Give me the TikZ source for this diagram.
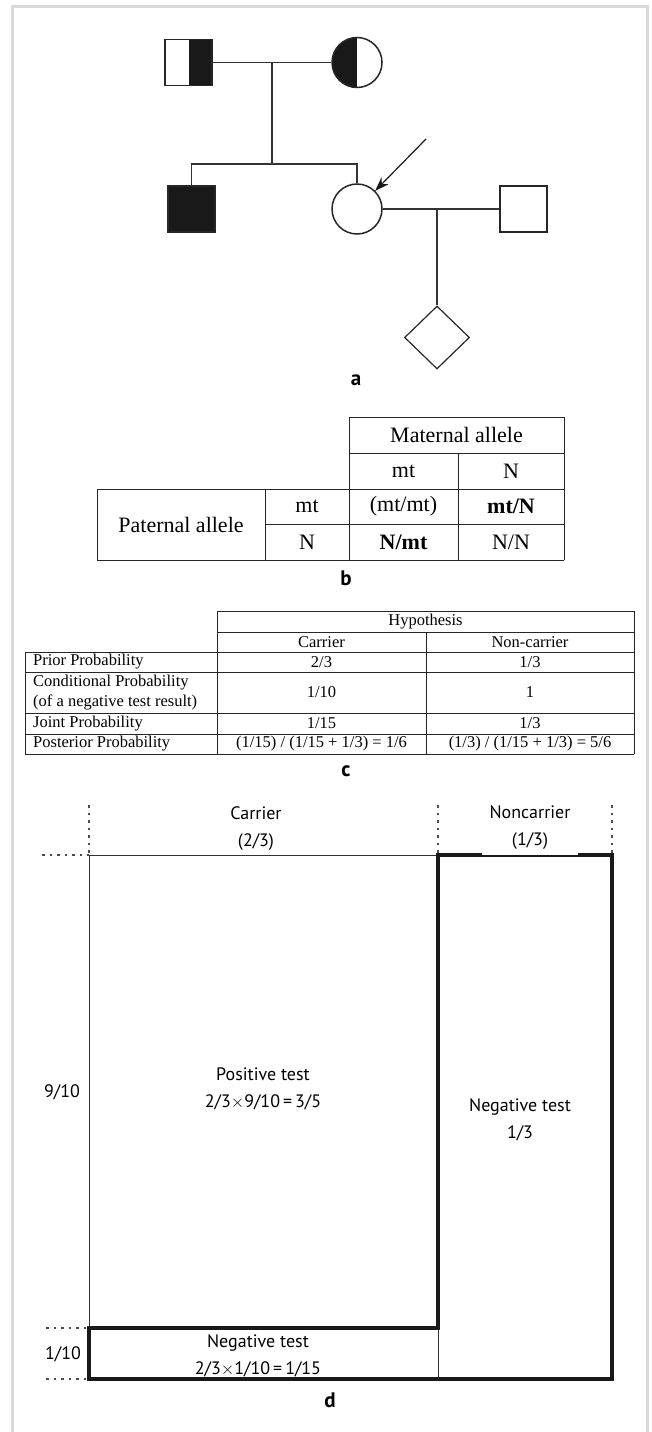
\documentclass[tikz,border=0pt]{standalone}
\usepackage{fontspec}
\setmainfont{Liberation Serif}
\setsansfont{PT Sans}
\usepackage{tikz}
\usetikzlibrary{arrows.meta,shapes.geometric,calc}
\tikzset{
  male/.style={
    rectangle, draw=black!85, line width=1.2pt,
    minimum width=47pt, minimum height=46pt, inner sep=0pt
  },
  female/.style={
    circle, draw=black!85, line width=1.5pt,
    minimum size=50pt, inner sep=0pt
  },
  pregnancy/.style={
    diamond, draw=black!85, line width=1.2pt,
    minimum width=65pt, minimum height=63pt, inner sep=0pt
  },
  pedline/.style={line width=1.2pt, color=black!80},
  pointer/.style={-{Stealth[length=14pt,width=10pt]}, line width=1.2pt, color=black!90},
  panel/.style={font=\sffamily\bfseries\fontsize{21}{24}\selectfont, inner sep=0pt},
  tabline/.style={line width=0.9pt, color=black!85},
  bigcell/.style={font=\fontsize{22}{26}\selectfont, inner sep=0pt},
  smallcell/.style={font=\fontsize{16.5}{20}\selectfont, inner sep=0pt, align=left},
  thinarea/.style={line width=1pt, color=black!80},
  thickarea/.style={line width=3.2pt, color=black!90, line join=miter},
  guide/.style={line width=1.3pt, color=black!70, dash pattern=on 2.5pt off 5pt},
  areatxt/.style={font=\sffamily\fontsize{18}{27}\selectfont, align=center, inner sep=2pt},
}
\newcommand{\tms}{\ensuremath{\times}}

\begin{document}
\begin{tikzpicture}[x=1pt, y=-1pt]

  \useasboundingbox (0,0) rectangle (652,1432);

  % Frame
  \draw[gray!30, line width=3pt] (12,1432) -- (12,6) -- (647,6) -- (647,1432);

  % Parents
  \node[male, path picture={\fill[black!90] (path picture bounding box.north)
        rectangle (path picture bounding box.south east);}] (father) at (188.5,62.5) {};
  \node[female, path picture={\fill[black!90] (path picture bounding box.south west)
        rectangle (path picture bounding box.north);}] (mother) at (357,62.5) {};
  \coordinate (couple) at (272,62.5);
  \coordinate (sibship) at (272,164);

  % Children
  \node[male, fill=black!90] (son) at (191.5,209) {};
  \node[female] (proband) at (357,209) {};
  \node[male] (partner) at (523.5,209) {};
  \coordinate (couple2) at (437,209);
  \node[pregnancy] (fetus) at (437,337.5) {};
  \coordinate (arrowtail) at (426,139);

  % Lines of descent
  \draw[pedline] (father.east) -- (mother.west);
  \draw[pedline] (couple) -- (sibship);
  \draw[pedline] (son.north) -- (son.north |- sibship) -- (proband.north |- sibship) -- (proband.north);
  \draw[pedline] (proband.east) -- (partner.west);
  \draw[pedline] (couple2) -- (fetus.north);
  \draw[pointer] (arrowtail) -- (proband.north east);

  \node[panel] (lbla) at (356,380) {a};

  % Punnett table
  \draw[tabline] (349,417) -- (564,417);
  \draw[tabline] (349,453) -- (564,453);
  \draw[tabline] (97,489) -- (564,489);
  \draw[tabline] (265,524) -- (564,524);
  \draw[tabline] (97,560) -- (564,560);
  \draw[tabline] (97,489) -- (97,560);
  \draw[tabline] (265,489) -- (265,560);
  \draw[tabline] (349,417) -- (349,560);
  \draw[tabline] (458,453) -- (458,560);
  \draw[tabline] (564,417) -- (564,560);

  \node[bigcell] (maternal) at (456.5,435) {Maternal allele};
  \node[bigcell] (matmt) at (403.5,471) {mt};
  \node[bigcell] (matn) at (511,471) {N};
  \node[bigcell] (paternal) at (181,524.5) {Paternal allele};
  \node[bigcell] (patmt) at (307,506.5) {mt};
  \node[bigcell] (patn) at (307,542) {N};
  \node[bigcell] (mtmt) at (403.5,506.5) {(mt/mt)};
  \node[bigcell] (mtn) at (511,506.5) {\textbf{mt/N}};
  \node[bigcell] (nmt) at (403.5,542) {\textbf{N/mt}};
  \node[bigcell] (nn) at (511,542) {N/N};

  \node[panel] (lblb) at (346,578) {b};

  % Bayes table
  \draw[tabline] (217,611) -- (634,611);
  \draw[tabline] (217,632) -- (634,632);
  \draw[tabline] (25,652) -- (634,652);
  \draw[tabline] (25,672) -- (634,672);
  \draw[tabline] (25,713) -- (634,713);
  \draw[tabline] (25,734) -- (634,734);
  \draw[tabline] (25,754) -- (634,754);
  \draw[tabline] (25,652) -- (25,754);
  \draw[tabline] (217,611) -- (217,754);
  \draw[tabline] (426,632) -- (426,754);
  \draw[tabline] (634,611) -- (634,754);

  \node[smallcell] (hyp) at (425.5,621.5) {Hypothesis};
  \node[smallcell] (carrier) at (321.5,642) {Carrier};
  \node[smallcell] (noncarrier) at (530,642) {Non-carrier};
  \node[smallcell, anchor=west] (prior) at (33,662) {Prior Probability};
  \node[smallcell, anchor=west] (cond) at (33,692.5) {Conditional Probability\\(of a negative test result)};
  \node[smallcell, anchor=west] (joint) at (33,723.5) {Joint Probability};
  \node[smallcell, anchor=west] (post) at (33,744) {Posterior Probability};
  \node[smallcell] (priorc) at (321.5,662) {2/3};
  \node[smallcell] (priorn) at (530,662) {1/3};
  \node[smallcell] (condc) at (321.5,692.5) {1/10};
  \node[smallcell] (condn) at (530,692.5) {1};
  \node[smallcell] (jointc) at (321.5,723.5) {1/15};
  \node[smallcell] (jointn) at (530,723.5) {1/3};
  \node[smallcell] (postc) at (321.5,744) {(1/15) / (1/15 + 1/3) = 1/6};
  \node[smallcell] (postn) at (530,744) {(1/3) / (1/15 + 1/3) = 5/6};

  \node[panel] (lblc) at (346,771) {c};

  % Area diagram
  \coordinate (tl) at (89,855);
  \coordinate (tm) at (438,855);
  \coordinate (tr) at (612,855);
  \coordinate (ml) at (89,1328);
  \coordinate (mm) at (438,1328);
  \coordinate (bl) at (89,1379);
  \coordinate (bm) at (438,1379);
  \coordinate (br) at (612,1379);

  \draw[thinarea] (ml) -- (tl) -- (tm);
  \draw[thinarea] (mm) -- (bm);
  \draw[thickarea] (ml) -- (mm) -- (tm) -- (tr) -- (br) -- (bl) -- cycle;

  \draw[guide] ($(tl)+(0,-50)$) -- (tl);
  \draw[guide] ($(tm)+(0,-50)$) -- (tm);
  \draw[guide] ($(tr)+(0,-50)$) -- (tr);
  \draw[guide] (42,855) -- (tl);
  \draw[guide] (46,1328) -- (ml);
  \draw[guide] (46,1379) -- (bl);

  \node[areatxt] (carrierd) at (256,828.5) {Carrier\\(2/3)};
  \node[areatxt, fill=white, anchor=south, minimum width=96pt, minimum height=54pt]
        (noncarrierd) at (530,855) {Noncarrier\\(1/3)};
  \node[areatxt] (posd) at (263,1088.5) {Positive test\\2/3\tms9/10\,=\,3/5};
  \node[areatxt] (negd) at (520,1120) {Negative test\\1/3};
  \node[areatxt] (neglow) at (258,1355.5) {Negative test\\2/3\tms1/10\,=\,1/15};
  \node[areatxt] (ninetenth) at (62,1092) {9/10};
  \node[areatxt] (onetenth) at (63,1354) {1/10};

  \node[panel] (lbld) at (330,1400) {d};

\end{tikzpicture}
\end{document}
